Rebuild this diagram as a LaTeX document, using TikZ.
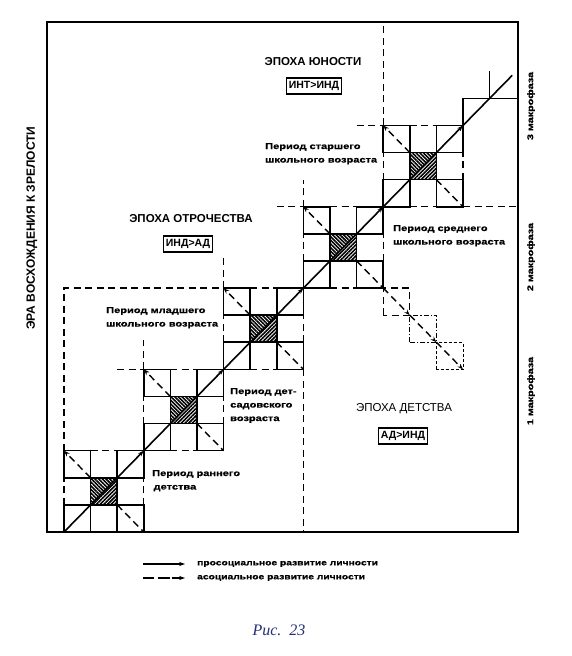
\documentclass[tikz,border=0pt]{standalone}
\usepackage{fontspec}
\setmainfont{Liberation Sans}
\newfontfamily\widefont[FakeStretch=1.3,BoldFeatures={FakeBold=0.6}]{Liberation Sans}
\newfontfamily\capfont{Liberation Serif}
\usetikzlibrary{patterns.meta,arrows.meta}
\definecolor{capblue}{RGB}{35,45,120}
\tikzset{
  frame/.style={line width=1.9pt},
  box/.style={line width=1.6pt},
  dl/.style={line width=1.3pt, dash pattern=on 7pt off 4.5pt},
  pro/.style={line width=1.6pt},
  aso/.style={line width=1.4pt, dash pattern=on 7pt off 4.5pt},
  tip/.style={-{Stealth[length=6pt,width=4.2pt]}},
  hatchA/.style={pattern={Lines[angle=-45,distance=2.6pt,line width=1.6pt]}},
  hatchB/.style={pattern={Lines[angle=45,distance=2.6pt,line width=1.6pt]}},
  epoch/.style={font=\bfseries\fontsize{11.5}{13}\selectfont, inner sep=0pt},
  rel/.style={draw, line width=1.5pt, font=\bfseries\fontsize{10.5}{12}\selectfont, inner sep=2.5pt, minimum height=16pt},
  period/.style={font=\widefont\bfseries\fontsize{8.5}{13.5}\selectfont, align=left, anchor=north west, inner sep=0pt},
  side/.style={font=\widefont\bfseries\fontsize{8.3}{10}\selectfont, rotate=90, inner sep=0pt},
  legend/.style={font=\widefont\bfseries\fontsize{7.9}{10}\selectfont, anchor=west, inner sep=0pt},
}
\begin{document}
\begin{tikzpicture}[x=1pt,y=1pt]
\useasboundingbox (0,0) rectangle (572,656);
\fill[white] (0,0) rectangle (572,656);
% outer frame
\draw[frame] (47,124) rectangle (518,634);
\begin{scope}[shift={(64pt,124pt)}, x=26.6pt, y=27.1pt]
  \foreach \q in {0,3,6,9,12}{
    \fill[hatchA] (\q+1,\q+1) -- (\q+1,\q+2) -- (\q+2,\q+2) -- cycle;
    \fill[hatchB] (\q+1,\q+1) -- (\q+2,\q+1) -- (\q+2,\q+2) -- cycle;
    \draw[box] (\q+1,\q+1) rectangle (\q+2,\q+2);
    \draw[box] (\q,\q) rectangle (\q+1,\q+1);
    \draw[box] (\q+2,\q) rectangle (\q+3,\q+1);
    \draw[box] (\q,\q+2) rectangle (\q+1,\q+3);
    \draw[box] (\q+2,\q+2) rectangle (\q+3,\q+3);
    \draw[dl] (\q+1,\q+3) -- (\q+2,\q+3);
    \draw[dl] (\q,\q+1) -- (\q,\q+2);
    \draw[dl] (\q+3,\q+1) -- (\q+3,\q+2);
    \draw[pro,tip] (\q,\q) -- (\q+3,\q+3);
    \draw[aso,tip] (\q+1,\q+2) -- (\q,\q+3);
    \draw[aso] (\q+2,\q+1) -- (\q+3,\q);
  }
  \foreach \q in {3,6,9,12} \draw[dl] (\q+1,\q) -- (\q+2,\q);
  % period boundaries
  \draw[dl] (0,3) -- (0,9) -- (6,9);
  \draw[dl] (2,6) -- (3,6);
  \draw[dl] (3,6) -- (3,7.1);
  \draw[dl] (6,9) -- (6,10.1);
  \draw[dl] (8,12) -- (9,12);
  \draw[dl] (9,12) -- (9,13);
  \draw[dl] (11,15) -- (12,15);
  \draw[dl] (12,15) -- (12,18.82);
  \draw[dl] (9,6) -- (9,0);
  \draw[dl] (15,12) -- (17.07,12);
  % top-right staircase
  \draw[box] (15,15) -- (15,16) -- (17.07,16);
  \draw[box] (16,16) -- (16,17);
  \draw[pro] (15,15) -- (16.85,16.85);
  % asocial staircase
  \draw[dl] (12,8) rectangle (13,9);
  \draw[line width=1.1pt, dash pattern=on 5pt off 2pt on 1.2pt off 2pt] (13,7) rectangle (14,8);
  \draw[line width=1pt, dash pattern=on 3pt off 2pt] (14,6) rectangle (15,7);
  \draw[aso,tip] (12,9) -- (13,8);
  \draw[aso,tip] (13,8) -- (14,7);
  \draw[aso,tip] (14,7) -- (15,6);
\end{scope}
% texts
\node[epoch] (eY) at (313,594) {ЭПОХА ЮНОСТИ};
\node[rel] (rY) at (314,570) {ИНТ>ИНД};
\node[epoch] (eO) at (191,437) {ЭПОХА ОТРОЧЕСТВА};
\node[rel] (rO) at (188,412) {ИНД>АД};
\node[epoch, font=\fontsize{11.5}{13}\selectfont] (eD) at (404,247) {ЭПОХА ДЕТСТВА};
\node[rel] (rD) at (403,220) {АД>ИНД};
\node[period] (p5) at (265,513) {Период старшего\\школьного возраста};
\node[period] (p4) at (393,431) {Период среднего\\школьного возраста};
\node[period] (p3) at (106,349) {Период младшего\\школьного возраста};
\node[period] (p2) at (230,268) {Период дет-\\садовского\\возраста};
\node[period] (p1) at (152,186) {Период раннего\\\,детства};
\node[font=\bfseries\fontsize{12}{14}\selectfont, rotate=90, inner sep=0pt] (era) at (32,428) {ЭРА ВОСХОЖДЕНИЯ К ЗРЕЛОСТИ};
\node[side] (m3) at (531,550) {3 макрофаза};
\node[side] (m2) at (531,399) {2 макрофаза};
\node[side] (m1) at (531,265) {1 макрофаза};
% legend
\coordinate (l1a) at (143,92);
\coordinate (l1b) at (185,92);
\coordinate (l2a) at (143,78);
\coordinate (l2b) at (185,78);
\draw[line width=1.2pt, tip] (l1a) -- (l1b);
\draw[line width=1.2pt, dash pattern=on 11pt off 4pt on 12pt off 2pt, tip] (l2a) -- (l2b);
\node[legend] (t1) at (197,92) {просоциальное развитие личности};
\node[legend] (t2) at (197,78) {асоциальное развитие личности};
\node[font=\capfont\itshape\fontsize{16}{18}\selectfont, text=capblue, inner sep=0pt] (cap) at (279,26) {Рис.\ \ 23};
\end{tikzpicture}
\end{document}
